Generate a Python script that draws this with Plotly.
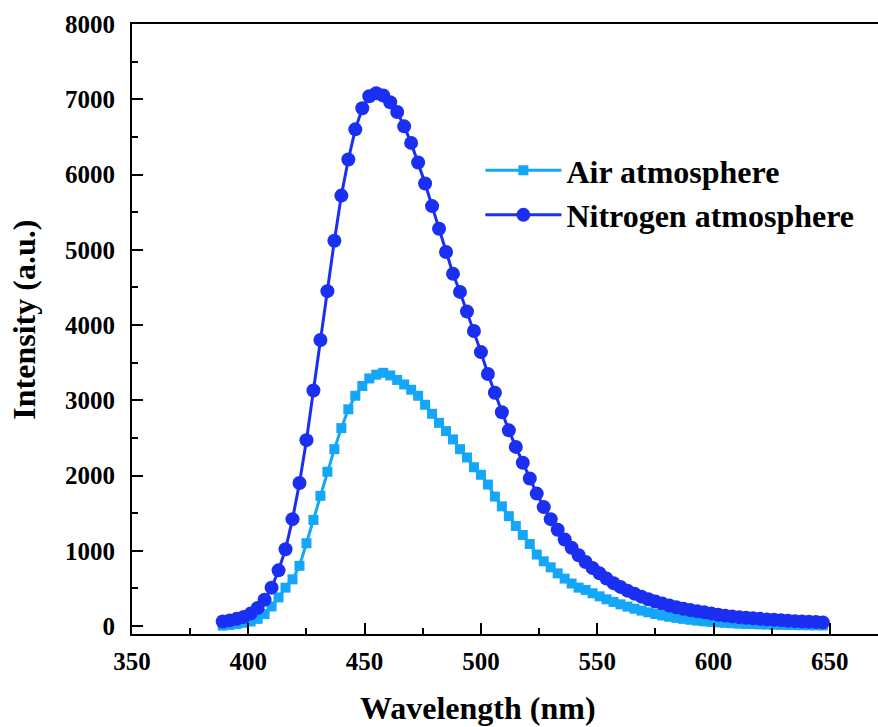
import plotly.graph_objects as go

wavelength = list(range(389, 650, 3))  # 389 ... 647 nm

air = [5, 15, 28, 42, 60, 95, 160, 260, 380, 510, 620, 800, 1100, 1410, 1730, 2050,
       2350, 2630, 2880, 3060, 3190, 3290, 3340, 3365, 3330, 3270, 3210, 3140, 3060,
       2940, 2820, 2700, 2590, 2480, 2350, 2240, 2110, 2010, 1880, 1720, 1590, 1460,
       1330, 1210, 1090, 950, 860, 780, 700, 630, 565, 510, 480, 435, 395, 355, 320,
       288, 258, 230, 205, 182, 160, 140, 123, 108, 95, 83, 72, 63, 55, 48, 42, 37,
       32, 28, 25, 22, 19, 17, 15, 13, 12, 11, 10, 9, 8]

nitrogen = [60, 75, 95, 120, 165, 240, 350, 510, 740, 1020, 1420, 1900, 2470, 3130,
            3800, 4450, 5120, 5720, 6200, 6600, 6880, 7040, 7080, 7050, 6960, 6830,
            6640, 6420, 6160, 5880, 5580, 5280, 4970, 4680, 4440, 4180, 3920, 3640,
            3350, 3100, 2840, 2600, 2380, 2170, 1960, 1760, 1580, 1420, 1280, 1150,
            1040, 940, 850, 770, 700, 630, 570, 520, 470, 430, 390, 355, 325, 298, 272,
            250, 230, 212, 196, 182, 168, 150, 138, 128, 118, 110, 102, 95, 88, 82, 76,
            70, 65, 60, 56, 52, 48]

names = ["Air atmosphere", "Nitrogen atmosphere"]
colors = ["#14A6F8", "#1B2FF3"]
x_title = "Wavelength (nm)"
y_title = "Intensity (a.u.)"

X_RANGE = [350, 670.7]
Y_RANGE = [-106, 8000]

FONT = "Liberation Serif, Times New Roman, serif"

fig = go.Figure()
fig.add_trace(go.Scatter(
    x=wavelength, y=air, name=names[0], mode="lines+markers",
    line=dict(color=colors[0], width=3),
    marker=dict(symbol="square", size=10, color=colors[0]),
))
fig.add_trace(go.Scatter(
    x=wavelength, y=nitrogen, name=names[1], mode="lines+markers",
    line=dict(color=colors[1], width=3),
    marker=dict(symbol="circle", size=14, color=colors[1]),
))
# invisible helper trace so the overlay axes (major ticks) are drawn
fig.add_trace(go.Scatter(
    x=wavelength, y=nitrogen, xaxis="x2", yaxis="y2", mode="lines",
    line=dict(color="rgba(0,0,0,0)"), showlegend=False, hoverinfo="skip",
))

tickfont = dict(family=FONT, size=25, color="black", weight="bold")

fig.update_layout(
    xaxis=dict(
        range=X_RANGE, showgrid=False, zeroline=False, showline=True,
        linecolor="black", linewidth=2, mirror=True,
        tick0=350, dtick=50, ticks="inside", ticklen=11, tickwidth=2, tickcolor="black",
        tickfont=tickfont, ticklabelstandoff=4,
        minor=dict(tick0=350, dtick=25, ticks="inside", ticklen=6, tickwidth=2,
                   tickcolor="black"),
    ),
    yaxis=dict(
        range=Y_RANGE, showgrid=False, zeroline=False, showline=True,
        linecolor="black", linewidth=2,
        tick0=0, dtick=1000, ticks="inside", ticklen=11, tickwidth=2, tickcolor="black",
        tickfont=tickfont, ticklabelstandoff=10,
        minor=dict(tick0=0, dtick=500, ticks="inside", ticklen=6, tickwidth=2,
                   tickcolor="black"),
    ),
    xaxis2=dict(
        range=X_RANGE, overlaying="x", anchor="y", side="bottom",
        showgrid=False, zeroline=False, showline=False, showticklabels=False,
        tick0=350, dtick=50, ticks="inside", ticklen=11, tickwidth=2, tickcolor="black",
    ),
    yaxis2=dict(
        range=Y_RANGE, overlaying="y", anchor="x", side="left",
        showgrid=False, zeroline=False, showline=False, showticklabels=False,
        tick0=0, dtick=1000, ticks="inside", ticklen=11, tickwidth=2, tickcolor="black",
    ),
)

fig.add_annotation(
    text=x_title, xref="paper", yref="paper", x=0.464, y=-0.122,
    xanchor="center", yanchor="middle", showarrow=False,
    font=dict(family=FONT, size=32, color="black", weight="bold"),
)
fig.add_annotation(
    text=y_title, xref="paper", yref="paper", x=-0.145, y=0.515,
    xanchor="center", yanchor="middle", showarrow=False, textangle=-90,
    font=dict(family=FONT, size=32, color="black", weight="bold"),
)

fig.update_layout(
    width=878, height=727,
    margin=dict(l=132, r=0, t=24, b=93, autoexpand=False),
    paper_bgcolor="white", plot_bgcolor="white",
    legend=dict(x=0.467, y=0.805, xanchor="left", yanchor="top",
                bgcolor="rgba(0,0,0,0)", itemwidth=76, tracegroupgap=0,
                font=dict(family=FONT, size=32, color="black", weight="bold")),
)

fig.write_html("out.html")
